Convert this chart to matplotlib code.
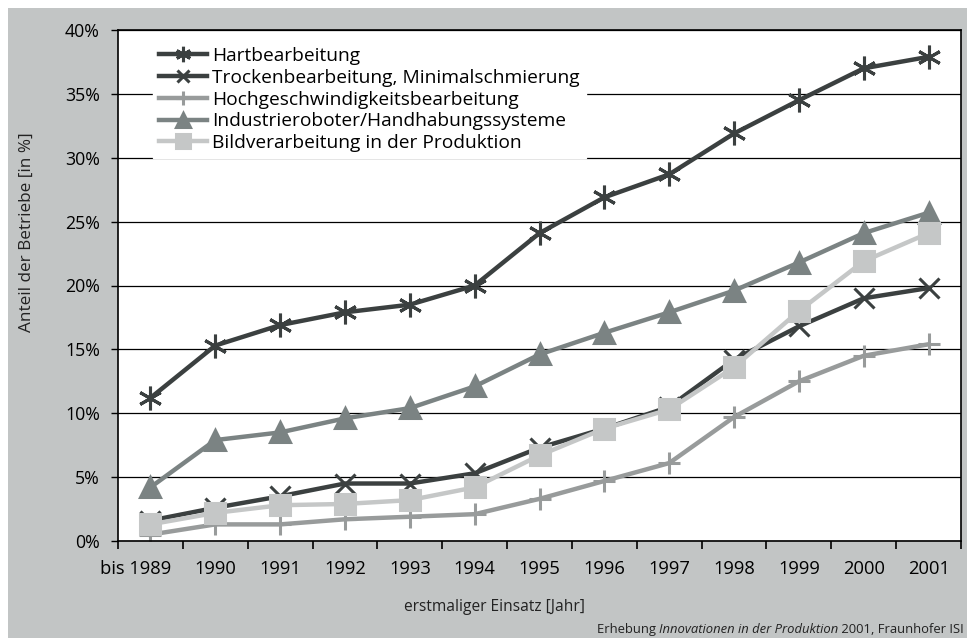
import matplotlib.pyplot as plt
import numpy as np
from matplotlib.patches import Rectangle
from matplotlib.ticker import FixedLocator, NullFormatter
import matplotlib.transforms as mtransforms

plt.rcParams['font.family'] = ['Open Sans', 'DejaVu Sans']

years = ['bis 1989', '1990', '1991', '1992', '1993', '1994', '1995',
         '1996', '1997', '1998', '1999', '2000', '2001']

hart = [11.2, 15.3, 16.9, 17.9, 18.5, 20.0, 24.1, 26.9, 28.7, 31.9, 34.5, 37.0, 37.9]
trocken = [1.6, 2.6, 3.5, 4.5, 4.5, 5.3, 7.3, 8.8, 10.5, 14.2, 16.8, 19.0, 19.8]
hochgeschw = [0.5, 1.3, 1.3, 1.7, 1.9, 2.1, 3.3, 4.7, 6.1, 9.7, 12.5, 14.5, 15.4]
roboter = [4.2, 7.9, 8.5, 9.6, 10.4, 12.1, 14.6, 16.3, 17.9, 19.6, 21.8, 24.1, 25.7]
bild = [1.3, 2.2, 2.8, 2.9, 3.2, 4.2, 6.7, 8.8, 10.3, 13.6, 18.0, 21.9, 24.1]

series = [
    ('Hartbearbeitung', hart, '#3b4040', (6, 2, 0), 17),
    ('Trockenbearbeitung, Minimalschmierung', trocken, '#3b4040', 'x', 14),
    ('Hochgeschwindigkeitsbearbeitung', hochgeschw, '#989b9b', '+', 16),
    ('Industrieroboter/Handhabungssysteme', roboter, '#7b8383', '^', 15),
    ('Bildverarbeitung in der Produktion', bild, '#c5c7c7', 's', 15),
]

bg = '#c2c5c5'
W, H = 967, 638
fig = plt.figure(figsize=(W / 100, H / 100), dpi=100, facecolor='white')
# grey chart area with a thin white margin at top and left
fig.patches.append(Rectangle((8 / W, 0), 1 - 8 / W, 1 - 8 / H, facecolor=bg,
                             edgecolor='none', transform=fig.transFigure, zorder=-1))

ax = fig.add_axes([118 / W, 1 - 541 / H, 843 / W, 511 / H])
ax.set_facecolor('white')

x = np.arange(len(years))
for name, vals, col, mk, ms in series:
    ax.plot(x, vals, color=col, lw=3.2, marker=mk, markersize=ms,
            markeredgewidth=2.2, markeredgecolor=col, markerfacecolor=col,
            label=name, solid_joinstyle='round')

ax.set_xlim(-0.5, len(years) - 0.5)
ax.set_ylim(0, 40)
ax.set_yticks(np.arange(0, 41, 5))
ax.set_yticklabels([f'{v}%' for v in range(0, 41, 5)])
ax.yaxis.grid(True, color='black', lw=0.9)
ax.set_axisbelow(True)

ax.xaxis.set_major_locator(FixedLocator(np.arange(-0.5, len(years), 1)))
ax.xaxis.set_major_formatter(NullFormatter())
ax.xaxis.set_minor_locator(FixedLocator(x))
ax.set_xticklabels(years, minor=True)
ax.tick_params(axis='x', which='major', length=6, width=1.2, color='black')
ax.tick_params(axis='x', which='minor', length=0, pad=14, labelsize=13.2)
ax.tick_params(axis='y', length=5, width=1, labelsize=12.8, pad=8)

# first label sits a bit left of its category, as in the original
first = ax.xaxis.get_minorticklabels()[0]
first.set_transform(first.get_transform() +
                    mtransforms.ScaledTranslation(-0.15, 0, fig.dpi_scale_trans))

for s in ax.spines.values():
    s.set_color('black')
    s.set_linewidth(1.2)

fig.text(27 / W, 1 - 232 / H, 'Anteil der Betriebe [in %]', rotation=90,
         ha='center', va='center', fontsize=12.3, color='#222222')
fig.text(494 / W, 1 - 607 / H, 'erstmaliger Einsatz [Jahr]',
         ha='center', va='center', fontsize=11.2, color='#222222')

leg = ax.legend(loc='upper left', bbox_to_anchor=(0.03, 0.997), frameon=True,
                fontsize=13.8, handlelength=2.5, handletextpad=0.3,
                labelspacing=0.2, borderpad=0.3, fancybox=False,
                markerscale=0.65)
leg.get_frame().set_facecolor('white')
leg.get_frame().set_edgecolor('white')
leg.get_frame().set_alpha(1)
for line in leg.get_lines():
    line.set_linewidth(3.2)

# source note, partly italic, right aligned at the figure edge
fig.canvas.draw()
r = fig.canvas.get_renderer()
pos = 964
parts = [('Erhebung ', 'normal'), ('Innovationen in der Produktion', 'italic'),
         (' 2001, Fraunhofer ISI', 'normal')]
for txt, style in reversed(parts):
    t = fig.text(pos / W, 5 / H, txt, ha='right', va='baseline',
                 fontsize=9.4, style=style, color='#222222')
    pos -= t.get_window_extent(renderer=r).width

fig.savefig('out.png', dpi=100, facecolor='white')
